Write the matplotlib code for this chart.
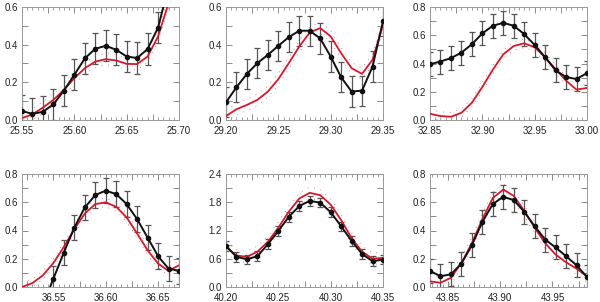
import numpy as np
import matplotlib.pyplot as plt
from matplotlib.ticker import MultipleLocator, FuncFormatter

plt.rcParams['font.family'] = ['Liberation Sans', 'DejaVu Sans']

# ------------------------------ DATA ------------------------------
# x start of each panel (points every 0.01)
x_start = [25.55, 29.20, 32.85, 36.52, 40.20, 43.833]

obs = [
    [0.048, 0.032, 0.044, 0.083, 0.156, 0.24, 0.327, 0.378, 0.394, 0.373,
     0.337, 0.329, 0.377, 0.49, 0.71, 0.9],
    [0.094, 0.174, 0.245, 0.302, 0.346, 0.394, 0.44, 0.474, 0.474, 0.433,
     0.337, 0.227, 0.151, 0.156, 0.284, 0.524],
    [0.395, 0.414, 0.438, 0.477, 0.536, 0.613, 0.667, 0.688, 0.667, 0.608,
     0.531, 0.444, 0.351, 0.304, 0.29, 0.332],
    [-0.5, -0.32, -0.13, 0.059, 0.244, 0.421, 0.563, 0.651, 0.682, 0.658,
     0.587, 0.48, 0.35, 0.218, 0.13, 0.114],
    [0.874, 0.64, 0.59, 0.654, 0.909, 1.19, 1.49, 1.72, 1.83, 1.79,
     1.59, 1.29, 0.98, 0.70, 0.55, 0.58],
    [0.114, 0.076, 0.09, 0.166, 0.296, 0.46, 0.587, 0.639, 0.615, 0.533,
     0.43, 0.336, 0.28, 0.218, 0.154, 0.071],
]
obs_err = [0.083, 0.08, 0.085, 0.09, 0.1, 0.085]

model = [
    [0.01, 0.03, 0.066, 0.107, 0.16, 0.222, 0.275, 0.31, 0.323, 0.316,
     0.298, 0.297, 0.337, 0.444, 0.62, 0.8],
    [0.021, 0.057, 0.08, 0.107, 0.151, 0.217, 0.302, 0.39, 0.465, 0.488,
     0.444, 0.355, 0.275, 0.245, 0.32, 0.506],
    [0.044, 0.028, 0.023, 0.051, 0.122, 0.234, 0.356, 0.465, 0.524, 0.543,
     0.515, 0.444, 0.36, 0.278, 0.215, 0.227],
    [0.0, 0.028, 0.083, 0.17, 0.284, 0.41, 0.52, 0.587, 0.599, 0.568,
     0.492, 0.379, 0.26, 0.166, 0.114, 0.154],
    [0.85, 0.67, 0.64, 0.75, 0.96, 1.26, 1.6, 1.88, 2.0, 1.95,
     1.75, 1.42, 1.04, 0.75, 0.60, 0.62],
    [0.04, 0.03, 0.065, 0.17, 0.31, 0.48, 0.63, 0.69, 0.645, 0.54,
     0.42, 0.31, 0.23, 0.175, 0.13, 0.075],
]
model_err = [0.03, 0.03, 0.03, 0.03, 0.12, 0.04]

y_max = [0.6, 0.6, 0.8, 0.8, 2.4, 0.8]
y_label_step = [0.2, 0.2, 0.2, 0.2, 0.6, 0.2]

# ------------------------------ PLOT ------------------------------
fig = plt.figure(figsize=(6.0, 3.02), dpi=100)
lefts = [22 / 600, 226 / 600, 430 / 600]
bottoms = [1 - 120 / 302, 1 - 287 / 302]
w, h = 157 / 600, 113 / 302

for i in range(6):
    ax = fig.add_axes([lefts[i % 3], bottoms[i // 3], w, h])
    x = x_start[i] + 0.01 * np.arange(len(obs[i]))
    m = np.array(model[i])
    for sgn in (1, -1):
        ax.plot(x, m + sgn * model_err[i], color='#e0303a', lw=0.6,
                ls=(0, (1, 7)), alpha=0.8)
    ax.plot(x, m, color='#d8182a', lw=1.3, zorder=3)
    ax.errorbar(x, obs[i], yerr=obs_err[i], fmt='none', ecolor='#555555',
                elinewidth=0.9, capsize=2, capthick=0.9, zorder=2)
    ax.plot(x, obs[i], color='#111111', lw=1.4, marker='o', ms=3, zorder=4)

    ax.set_xlim(x_start[i], x_start[i] + 0.15)
    ax.set_ylim(0, y_max[i])
    step = y_label_step[i]
    ax.yaxis.set_major_locator(MultipleLocator(step / 2))
    ax.yaxis.set_major_formatter(FuncFormatter(
        lambda v, p, s=step: ('%.1f' % v) if abs(v / s - round(v / s)) < 1e-6 else ''))
    ax.xaxis.set_major_locator(MultipleLocator(0.025))
    ax.xaxis.set_major_formatter(FuncFormatter(
        lambda v, p: ('%.2f' % v) if abs(v / 0.05 - round(v / 0.05)) < 1e-6 else ''))
    ax.xaxis.set_minor_locator(MultipleLocator(0.005))
    ax.tick_params(which='both', direction='in', top=True, right=True,
                   colors='#777777', labelcolor='#222222', labelsize=7)
    ax.tick_params(which='major', length=4, width=0.6)
    ax.tick_params(which='minor', length=2, width=0.5)
    ax.tick_params(axis='x', pad=4)
    ax.tick_params(axis='y', pad=3)
    for sp in ax.spines.values():
        sp.set_color('#999999')
        sp.set_linewidth(0.7)

fig.savefig('out.png', dpi=100)
